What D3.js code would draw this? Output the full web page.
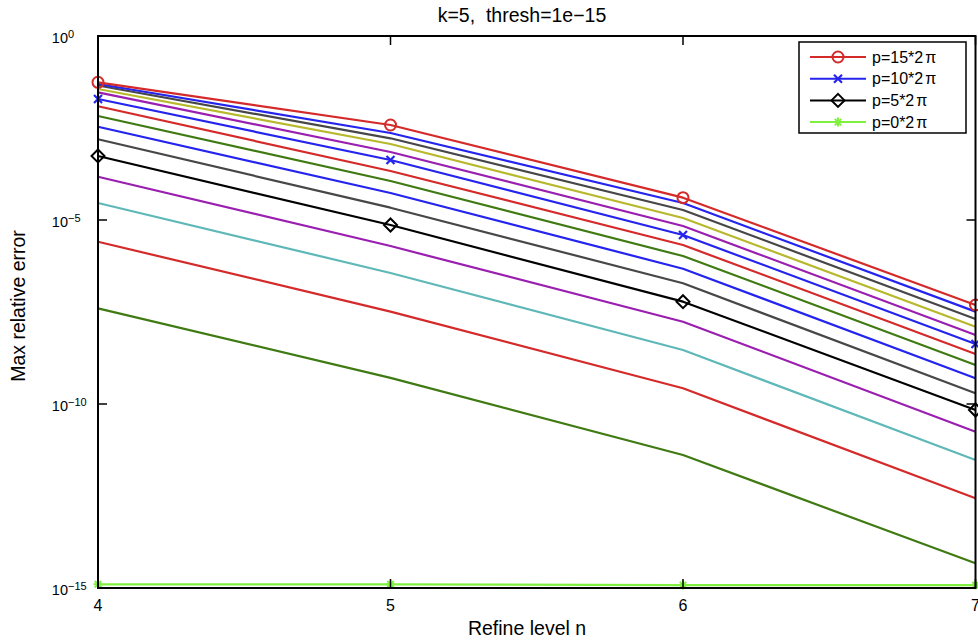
<!DOCTYPE html>
<html><head><meta charset="utf-8">
<script src="https://cdn.jsdelivr.net/npm/d3@7"></script>
<style>
html,body{margin:0;padding:0;background:#fff;}
svg{display:block;font-family:"Liberation Sans",Arial,Helvetica,sans-serif;}
</style></head>
<body>
<svg id="chart" width="978" height="643"></svg>
<script>
// ---- data ----
const levels = [4, 5, 6, 7];
const xTicks = [4, 5, 6, 7];
const yTicks = [1e0, 1e-5, 1e-10, 1e-15];
const yTickExp = ["0", "\u22125", "\u221210", "\u221215"];
const pValues = [0,1,2,3,4,5,6,7,8,9,10,11,12,13,14,15];
const err_p0  = [1.26e-15, 1.26e-15, 1.2e-15, 1.2e-15];
const err_p1  = [3.98e-8, 5.13e-10, 4.11e-12, 4.68e-15];
const err_p2  = [2.57e-6, 3.24e-8, 2.67e-10, 2.75e-13];
const err_p3  = [2.90e-5, 3.63e-7, 2.93e-9, 3.02e-12];
const err_p4  = [1.50e-4, 1.96e-6, 1.72e-8, 1.77e-11];
const err_p5  = [5.50e-4, 7.31e-6, 6.03e-8, 6.87e-11];
const err_p6  = [1.56e-3, 2.16e-5, 1.91e-7, 1.95e-10];
const err_p7  = [3.43e-3, 5.42e-5, 4.75e-7, 5.0e-10];
const err_p8  = [6.70e-3, 1.15e-4, 1.05e-6, 1.15e-9];
const err_p9  = [1.23e-2, 2.15e-4, 2.09e-6, 2.29e-9];
const err_p10 = [1.94e-2, 4.27e-4, 3.91e-6, 4.27e-9];
const err_p11 = [2.95e-2, 7.05e-4, 6.87e-6, 7.5e-9];
const err_p12 = [3.63e-2, 1.16e-3, 1.13e-5, 1.26e-8];
const err_p13 = [4.52e-2, 1.66e-3, 1.87e-5, 2.04e-8];
const err_p14 = [4.97e-2, 2.31e-3, 2.90e-5, 3.24e-8];
const err_p15 = [5.52e-2, 3.82e-3, 4.04e-5, 4.9e-8];
const seriesErrors = [err_p0, err_p1, err_p2, err_p3, err_p4, err_p5, err_p6, err_p7,
                      err_p8, err_p9, err_p10, err_p11, err_p12, err_p13, err_p14, err_p15];
const seriesColors = ["#80f040", "#3f7a12", "#d42a2a", "#5fb8b8", "#9a1fb0", "#000000",
                      "#474747", "#2424ee", "#3f7a12", "#d42a2a", "#2424ee", "#9a1fb0",
                      "#b8b82c", "#474747", "#2424ee", "#d42a2a"];
const seriesMarkers = {15: "circle", 10: "x", 5: "diamond", 0: "star"};
const legendP = [15, 10, 5, 0];
const legendLabels = ["p=15*2", "p=10*2", "p=5*2", "p=0*2"];
const titleText = "k=5,  thresh=1e\u221215";
const xLabel = "Refine level n";
const yLabel = "Max relative error";

// ---- layout ----
const svg = d3.select("#chart");
const L = 98, R = 975.5, T = 36, B = 588;
const x = d3.scaleLinear().domain([4, 7]).range([L, R]);
const y = d3.scaleLog().domain([1e-15, 1]).range([B, T]);

// lines
const line = d3.line().x((d, i) => x(levels[i])).y(d => y(d));
const gLines = svg.append("g");
pValues.forEach((p, k) => {
  gLines.append("path").datum(seriesErrors[k])
    .attr("d", line).attr("fill", "none")
    .attr("stroke", seriesColors[k]).attr("stroke-width", 2.2)
    .attr("stroke-linejoin", "round");
});

function drawMarker(g, type, cx, cy, color) {
  if (type === "circle") {
    g.append("circle").attr("cx", cx).attr("cy", cy).attr("r", 5.5)
      .attr("fill", "none").attr("stroke", color).attr("stroke-width", 2);
  } else if (type === "x") {
    const s = 4;
    g.append("path").attr("d", `M${cx-s},${cy-s}L${cx+s},${cy+s}M${cx-s},${cy+s}L${cx+s},${cy-s}`)
      .attr("stroke", color).attr("stroke-width", 2.2).attr("fill", "none");
  } else if (type === "diamond") {
    const s = 6.5;
    g.append("path").attr("d", `M${cx},${cy-s}L${cx+s},${cy}L${cx},${cy+s}L${cx-s},${cy}Z`)
      .attr("stroke", color).attr("stroke-width", 2).attr("fill", "none");
  } else if (type === "star") {
    const s = 4.5;
    g.append("path").attr("d",
      `M${cx-s},${cy}L${cx+s},${cy}M${cx},${cy-s}L${cx},${cy+s}` +
      `M${cx-s*0.72},${cy-s*0.72}L${cx+s*0.72},${cy+s*0.72}M${cx-s*0.72},${cy+s*0.72}L${cx+s*0.72},${cy-s*0.72}`)
      .attr("stroke", color).attr("stroke-width", 2).attr("fill", "none");
  }
}

const gMarks = svg.append("g");
pValues.forEach((p, k) => {
  if (seriesMarkers[p]) {
    seriesErrors[k].forEach((v, i) => drawMarker(gMarks, seriesMarkers[p], x(levels[i]), y(v), seriesColors[k]));
  }
});

// axes box
const gAx = svg.append("g");
gAx.append("rect").attr("x", L).attr("y", T).attr("width", R - L).attr("height", B - T)
  .attr("fill", "none").attr("stroke", "#000").attr("stroke-width", 2);
const tl = 9;
xTicks.forEach(t => {
  const xx = x(t);
  gAx.append("line").attr("x1", xx).attr("x2", xx).attr("y1", B).attr("y2", B - tl).attr("stroke", "#000").attr("stroke-width", 1.5);
  gAx.append("line").attr("x1", xx).attr("x2", xx).attr("y1", T).attr("y2", T + tl).attr("stroke", "#000").attr("stroke-width", 1.5);
  gAx.append("text").attr("x", xx).attr("y", B + 23).attr("text-anchor", "middle")
    .attr("font-size", 16).attr("fill", "#000").text(t);
});
yTicks.forEach((t, i) => {
  const yy = y(t);
  gAx.append("line").attr("x1", L).attr("x2", L + tl).attr("y1", yy).attr("y2", yy).attr("stroke", "#000").attr("stroke-width", 1.5);
  gAx.append("line").attr("x1", R).attr("x2", R - tl).attr("y1", yy).attr("y2", yy).attr("stroke", "#000").attr("stroke-width", 1.5);
  gAx.append("text").attr("x", 68).attr("y", yy + 7).attr("text-anchor", "end")
    .attr("font-size", 14.5).attr("fill", "#000").text("10");
  gAx.append("text").attr("x", 68).attr("y", yy + 2).attr("text-anchor", "start")
    .attr("font-size", 11).attr("fill", "#000").text(yTickExp[i]);
});

// title & labels
svg.append("text").attr("x", 522).attr("y", 22).attr("text-anchor", "middle")
  .attr("font-size", 19.5).attr("fill", "#000").attr("xml:space", "preserve")
  .style("white-space", "pre").text(titleText);
svg.append("text").attr("x", 527).attr("y", 635).attr("text-anchor", "middle")
  .attr("font-size", 19.5).attr("fill", "#000").text(xLabel);
svg.append("text").attr("transform", "translate(25,306) rotate(-90)").attr("text-anchor", "middle")
  .attr("font-size", 19.5).attr("fill", "#000").text(yLabel);

// legend
const lg = svg.append("g");
lg.append("rect").attr("x", 799).attr("y", 42).attr("width", 167).attr("height", 91)
  .attr("fill", "#fff").attr("stroke", "#000").attr("stroke-width", 1.5);
legendP.forEach((p, i) => {
  const k = pValues.indexOf(p);
  const yy = 57 + i * 21.7;
  lg.append("line").attr("x1", 810).attr("x2", 866).attr("y1", yy).attr("y2", yy)
    .attr("stroke", seriesColors[k]).attr("stroke-width", 2);
  drawMarker(lg, seriesMarkers[p], 838, yy, seriesColors[k]);
  const t = lg.append("text").attr("x", 872).attr("y", yy + 5.5).attr("font-size", 16).attr("fill", "#000");
  t.append("tspan").text(legendLabels[i]);
  t.append("tspan").attr("dx", 2).attr("font-size", 16).text("\u03c0");
});
</script>
</body></html>
